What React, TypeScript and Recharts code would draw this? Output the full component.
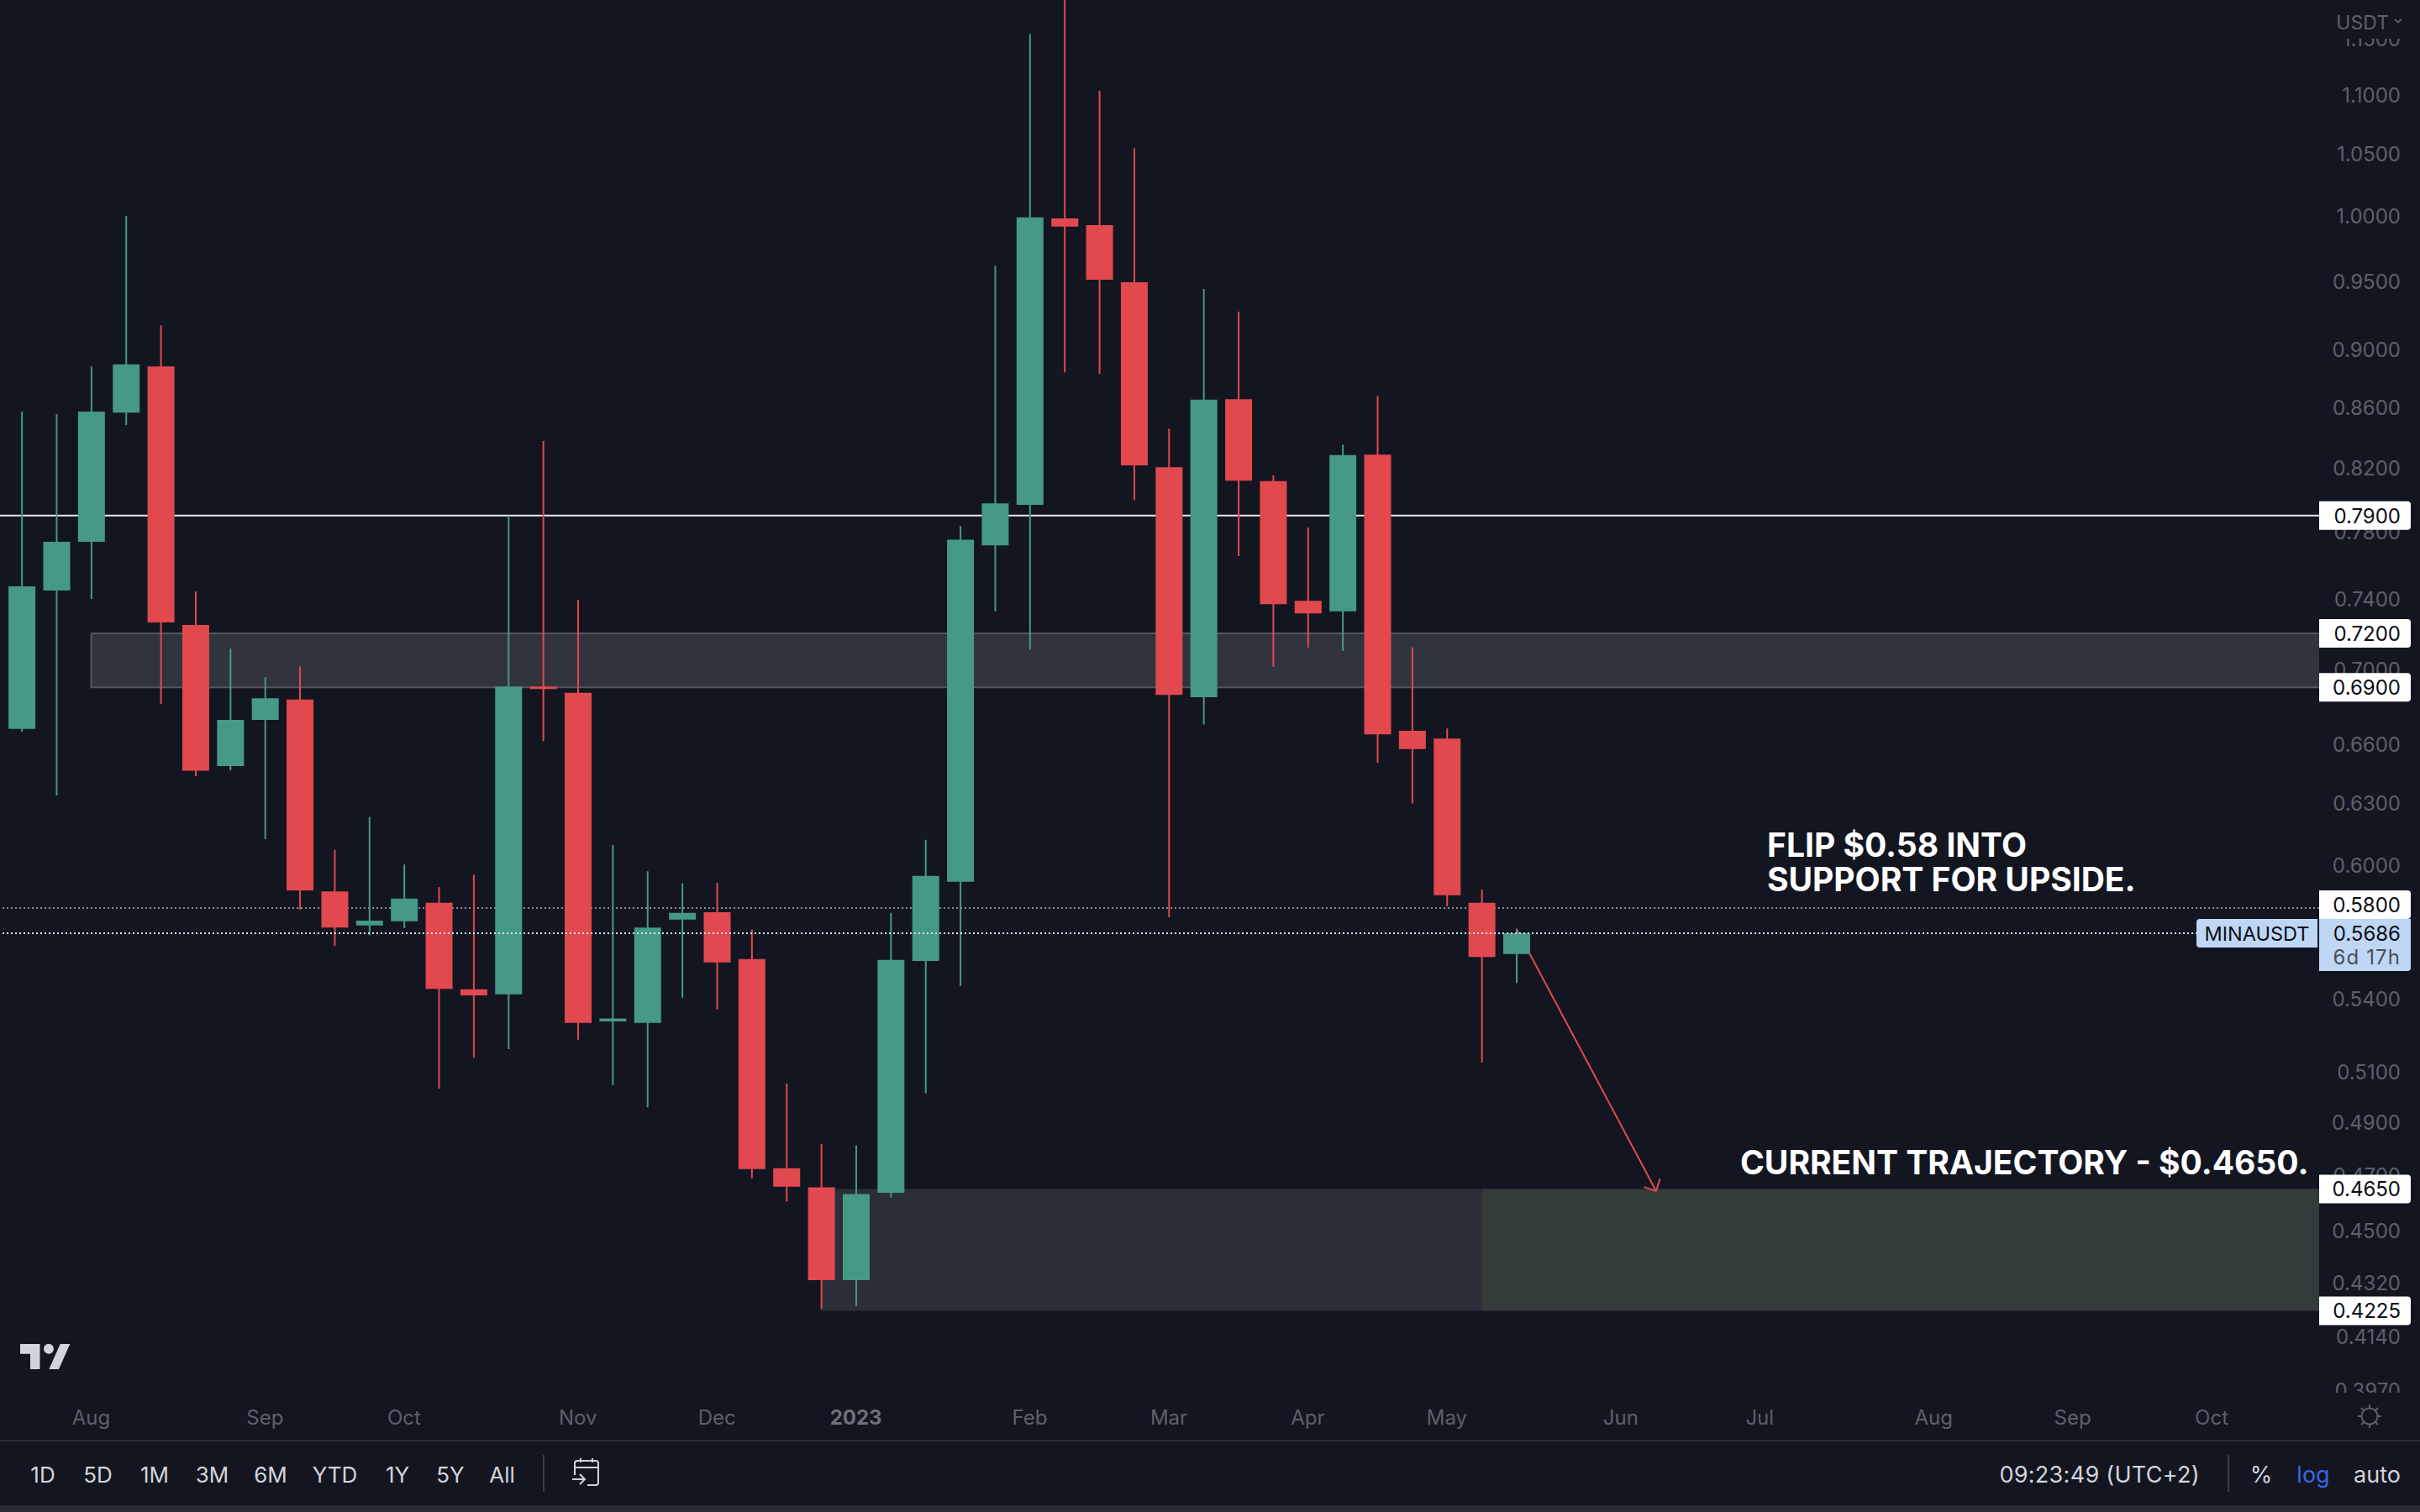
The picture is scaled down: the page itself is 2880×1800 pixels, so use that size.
import { Bar, Cell, ComposedChart, ReferenceArea, ReferenceLine, XAxis, YAxis } from 'recharts'

const WIDTH = 2880
const HEIGHT = 1800
const FONT = 'Inter, "Noto Sans", sans-serif'

// weekly MINAUSDT candles
const opens = [
  0.6678, 0.7447, 0.7738, 0.8566, 0.8883, 0.7248, 0.6486, 0.6726, 0.6835, 0.5877, 0.5721,
  0.574, 0.5824, 0.5441, 0.5419, 0.6905, 0.6871, 0.5305, 0.5299, 0.5748, 0.5781, 0.5572,
  0.4726, 0.4656, 0.4328, 0.4636, 0.5564, 0.5921, 0.7716, 0.7966, 0.9981, 0.9927, 0.9492,
  0.8205, 0.6847, 0.8657, 0.8116, 0.7387, 0.7326, 0.8287, 0.6668, 0.6628, 0.5824, 0.5594,
]
const highs = [
  0.8573, 0.8556, 0.8883, 1.0, 0.9174, 0.7441, 0.7115, 0.6957, 0.7016, 0.6072, 0.6231,
  0.6003, 0.5897, 0.5955, 0.7898, 0.8376, 0.7393, 0.6095, 0.5971, 0.5914, 0.5917, 0.5702,
  0.5052, 0.4818, 0.4812, 0.5778, 0.612, 0.7834, 0.9615, 1.1541, 1.1852, 1.1036, 1.0549,
  0.8459, 0.9442, 0.9275, 0.8153, 0.7825, 0.8353, 0.868, 0.7121, 0.6681, 0.5886, 0.5706,
]
const lows = [
  0.6663, 0.6338, 0.7398, 0.8482, 0.6811, 0.6435, 0.6464, 0.6123, 0.5793, 0.563, 0.5677,
  0.571, 0.5032, 0.5156, 0.5191, 0.6615, 0.5229, 0.5046, 0.4958, 0.5405, 0.5356, 0.4689,
  0.4604, 0.423, 0.4241, 0.4618, 0.5013, 0.5455, 0.7326, 0.7109, 0.8842, 0.8832, 0.7997,
  0.5758, 0.6703, 0.7652, 0.7013, 0.712, 0.7101, 0.6503, 0.6297, 0.5808, 0.5136, 0.5468,
]
const closes = [
  0.7472, 0.7738, 0.8573, 0.8897, 0.7262, 0.6462, 0.6726, 0.6842, 0.5881, 0.5712, 0.5743,
  0.5844, 0.5443, 0.5415, 0.6905, 0.6892, 0.5299, 0.5317, 0.5712, 0.5778, 0.5557, 0.4723,
  0.4658, 0.4328, 0.4631, 0.5568, 0.5949, 0.7751, 0.7976, 0.9988, 0.9916, 0.951, 0.8218,
  0.686, 0.8654, 0.8119, 0.7367, 0.7314, 0.8284, 0.665, 0.6573, 0.5859, 0.5581, 0.5686,
]

const priceTicks = [
  1.15, 1.1, 1.05, 1.0, 0.95, 0.9, 0.86, 0.82, 0.78, 0.74, 0.7, 0.66, 0.63, 0.6, 0.54, 0.51,
  0.49, 0.47, 0.45, 0.432, 0.414, 0.397,
]
const monthLabels = ['Aug', 'Sep', 'Oct', 'Nov', 'Dec', '2023', 'Feb', 'Mar', 'Apr', 'May', 'Jun', 'Jul', 'Aug', 'Sep', 'Oct']
const monthCandles = [2, 7, 11, 16, 20, 24, 29, 33, 37, 41, 46, 50, 55, 59, 63]
const rangeButtons = ['1D', '5D', '1M', '3M', '6M', 'YTD', '1Y', '5Y', 'All']
const rangeButtonX = [51, 116.5, 184, 252.5, 322, 398.5, 473, 536, 597.5]

// visible window of the two scales
const PRICE_DOMAIN = [0.3961, 1.1852]
const CANDLE_DOMAIN = [-0.6236, 66.0925]

const BG = '#131621'
const GREEN = '#459985'
const RED = '#E1494F'
const AXIS_TEXT = '#5D606B'
const TOOL_TEXT = '#D1D4DC'
const TEXT_DY = 0.5
// reference lines drawn below the candles: over the zones (100), under the bars (300)
const UNDER_BARS = 150

const rows = opens.map((open, i) => ({
  i,
  wick: [lows[i], highs[i]],
  body: [Math.min(open, closes[i]), Math.max(open, closes[i])],
  up: closes[i] >= open,
}))

function PriceTick({ y, payload }: any) {
  return (
    <g clipPath="url(#priceAxisClip)">
      <text x={2857} y={y + TEXT_DY} textAnchor="end" dominantBaseline="central" fontFamily={FONT} fontSize={24} fill={AXIS_TEXT}>
        {payload.value.toFixed(4)}
      </text>
    </g>
  )
}

function MonthTick({ x, payload }: any) {
  const label = monthLabels[monthCandles.indexOf(payload.value)]
  const isYear = label === '2023'
  return (
    <text
      x={x}
      y={1687}
      textAnchor="middle"
      dominantBaseline="central"
      fontFamily={FONT}
      fontSize={24}
      fontWeight={isYear ? 700 : 400}
      fill={isYear ? '#6E717B' : AXIS_TEXT}
    >
      {label}
    </text>
  )
}

// zone box, outlined on every side but the one against the price scale
function OpenZone({ x, y, width, height }: any) {
  return (
    <g>
      <rect x={x} y={y} width={width} height={height} fill="#31343D" />
      <path d={`M${x + width} ${y}H${x}V${y + height}H${x + width}`} fill="none" stroke="#53565F" strokeWidth={2} />
    </g>
  )
}

// white box on the price scale for each drawn level
function priceTag(text: string, shift = 0) {
  return ({ viewBox }: any) => {
    const y = viewBox.y + shift
    const x = viewBox.x + viewBox.width
    return (
      <g>
        <path d={`M${x} ${y - 17}h105a4 4 0 0 1 4 4v26a4 4 0 0 1 -4 4h-105z`} fill="#FFFFFF" />
        <text x={2857} y={y + TEXT_DY} textAnchor="end" dominantBaseline="central" fontFamily={FONT} fontSize={24} fill="#0B0E14">
          {text}
        </text>
      </g>
    )
  }
}

function lastPriceTag({ viewBox }: any) {
  const y = viewBox.y
  const x = viewBox.x + viewBox.width
  return (
    <g fontFamily={FONT} fontSize={24}>
      <rect x={x - 2} y={y - 2} width={2} height={4} fill={BG} />
      <path d={`M${x - 2} ${y - 17}v34h-140a4 4 0 0 1 -4 -4v-26a4 4 0 0 1 4 -4z`} fill="#BFD6F5" />
      <text x={x - 74} y={y + TEXT_DY} textAnchor="middle" dominantBaseline="central" fontSize={23.5} fill="#0B0E14">
        MINAUSDT
      </text>
      <path d={`M${x} ${y - 17}h109v58a4 4 0 0 1 -4 4h-105z`} fill="#BFD6F5" />
      <text x={2857} y={y + TEXT_DY} textAnchor="end" dominantBaseline="central" fill="#0B0E14">
        0.5686
      </text>
      <text x={2857} y={y + 28} textAnchor="end" dominantBaseline="central" letterSpacing={1.1} fill="#4A4E58">
        6d 17h
      </text>
    </g>
  )
}

function Overlay() {
  return (
    <svg width={WIDTH} height={HEIGHT} style={{ position: 'absolute', left: 0, top: 0, pointerEvents: 'none' }}>
      <defs>
        <clipPath id="priceAxisClip">
          <rect x={2760} y={46} width={120} height={1612} />
        </clipPath>
      </defs>

      {/* annotations */}
      <g fontFamily={FONT} fontSize={39} fontWeight={700} fill="#FFFFFF">
        <text x={2103} y={1020}>FLIP $0.58 INTO</text>
        <text x={2103} y={1060.5}>SUPPORT FOR UPSIDE.</text>
        <text x={2071} y={1398}>CURRENT TRAJECTORY - $0.4650.</text>
      </g>

      {/* price scale header */}
      <text x={2843} y={27} textAnchor="end" dominantBaseline="central" fontFamily={FONT} fontSize={23} fill={AXIS_TEXT}>
        USDT
      </text>
      <path d="M2850 23l4 3.5l4 -3.5" fill="none" stroke={AXIS_TEXT} strokeWidth={2} />

      {/* logo */}
      <path d="M24 1600h23.500v30h-11.500v-18.300h-12z" fill={TOOL_TEXT} />
      <circle cx={58} cy={1605.700} r={6} fill={TOOL_TEXT} />
      <path d="M71.700 1600h11.600l-13.300 30h-11.700z" fill={TOOL_TEXT} />

      {/* sun icon */}
      <g stroke={AXIS_TEXT} strokeWidth={2} fill="none">
        <circle cx={2820} cy={1686} r={9.500} />
        <path d="M2820 1672v5M2820 1695v5M2806 1686h5M2829 1686h5M2810 1676l3.500 3.500M2826.500 1692.500l3.500 3.500M2830 1676l-3.500 3.500M2813.500 1692.500l-3.500 3.500" />
      </g>

      {/* bottom toolbar */}
      <rect x={0} y={1714} width={WIDTH} height={2} fill="#2A2E39" />
      <rect x={0} y={1792} width={WIDTH} height={8} fill="#2A2D38" />
      <g fontFamily={FONT} fontSize={26} fill={TOOL_TEXT} dominantBaseline="central">
        {rangeButtons.map((label, i) => (
          <text key={label} x={rangeButtonX[i]} y={1755} textAnchor="middle">
            {label}
          </text>
        ))}
        <text x={2618} y={1755} textAnchor="end" fontSize={27} letterSpacing={0.3}>09:23:49 (UTC+2)</text>
        <text x={2691} y={1755} textAnchor="middle" fontSize={27}>%</text>
        <text x={2753} y={1755} textAnchor="middle" fontSize={27} fill="#3A66E8">log</text>
        <text x={2857} y={1755} textAnchor="end" fontSize={27}>auto</text>
      </g>
      <rect x={646} y={1732} width={2} height={44} fill="#3A3E49" />
      <rect x={2651} y={1732} width={2} height={44} fill="#3A3E49" />
      <g stroke={TOOL_TEXT} strokeWidth={2} fill="none">
        <path d="M684 1756v-14a3 3 0 0 1 3 -3h22a3 3 0 0 1 3 3v23a3 3 0 0 1 -3 3h-10" />
        <path d="M684 1747h28M691 1736v5M705 1736v5M681 1761h15M690 1755l6 6l-6 6" />
      </g>
    </svg>
  )
}

// the price tags go over the axis text, so they get a transparent chart of their own
function PriceTags() {
  return (
    <ComposedChart
      width={WIDTH}
      height={HEIGHT}
      data={rows}
      margin={{ top: 0, right: 120, bottom: 142, left: 0 }}
      style={{ position: 'absolute', left: 0, top: 0 }}
    >
      <XAxis dataKey="i" type="number" domain={CANDLE_DOMAIN} allowDataOverflow hide />
      <YAxis type="number" scale="log" domain={PRICE_DOMAIN} allowDataOverflow hide />
      <ReferenceLine y={0.5686} stroke="none" label={lastPriceTag} />
      <ReferenceLine y={0.79} stroke="none" label={priceTag('0.7900')} />
      <ReferenceLine y={0.72} stroke="none" label={priceTag('0.7200')} />
      <ReferenceLine y={0.69} stroke="none" label={priceTag('0.6900')} />
      <ReferenceLine y={0.58} stroke="none" label={priceTag('0.5800', -4)} />
      <ReferenceLine y={0.465} stroke="none" label={priceTag('0.4650')} />
      <ReferenceLine y={0.4225} stroke="none" label={priceTag('0.4225')} />
    </ComposedChart>
  )
}

export default function App() {
  const xMax = CANDLE_DOMAIN[1]
  return (
    <div style={{ position: 'absolute', left: 0, top: 0, width: WIDTH, height: HEIGHT, background: BG, overflow: 'hidden' }}>
      <Overlay />
      <ComposedChart
        width={WIDTH}
        height={HEIGHT}
        data={rows}
        margin={{ top: 0, right: 0, bottom: 86, left: 0 }}
        style={{ position: 'absolute', left: 0, top: 0 }}
      >
        <XAxis
          dataKey="i"
          type="number"
          domain={CANDLE_DOMAIN}
          allowDataOverflow
          ticks={monthCandles}
          interval={0}
          height={56}
          axisLine={false}
          tickLine={false}
          tick={MonthTick}
        />
        <XAxis xAxisId="wick" dataKey="i" type="number" domain={CANDLE_DOMAIN} allowDataOverflow hide />
        <YAxis
          orientation="right"
          type="number"
          scale="log"
          domain={PRICE_DOMAIN}
          allowDataOverflow
          ticks={priceTicks}
          interval={0}
          width={120}
          axisLine={false}
          tickLine={false}
          tick={PriceTick}
        />

        <ReferenceArea x1={2} x2={xMax} y1={0.69} y2={0.72} shape={OpenZone} />
        <ReferenceArea x1={23} x2={42} y1={0.4225} y2={0.465} fill="#2B2E37" fillOpacity={1} />
        <ReferenceArea x1={42} x2={xMax} y1={0.4225} y2={0.465} fill="#343B3B" fillOpacity={1} />
        <ReferenceLine y={0.79} stroke="#E8E8E8" strokeWidth={2} zIndex={UNDER_BARS} />
        <ReferenceLine y={0.58} stroke="#8B8D92" strokeWidth={2} strokeDasharray="2 3" zIndex={UNDER_BARS} />

        {/* projected move, the last candle's body covers its first stretch */}
        <ReferenceLine segment={[{ x: 43, y: 0.5706 }, { x: 47.02, y: 0.4642 }]} stroke={RED} strokeWidth={2} zIndex={UNDER_BARS} />
        <ReferenceLine segment={[{ x: 46.67, y: 0.4657 }, { x: 47.02, y: 0.4642 }]} stroke={RED} strokeWidth={2} zIndex={UNDER_BARS} />
        <ReferenceLine segment={[{ x: 47.13, y: 0.4688 }, { x: 47.02, y: 0.4642 }]} stroke={RED} strokeWidth={2} zIndex={UNDER_BARS} />

        <Bar xAxisId="wick" dataKey="wick" barSize={2} isAnimationActive={false}>
          {rows.map((row) => (
            <Cell key={row.i} fill={row.up ? GREEN : RED} />
          ))}
        </Bar>
        <Bar dataKey="body" barSize={32} isAnimationActive={false}>
          {rows.map((row) => (
            <Cell key={row.i} fill={row.up ? GREEN : RED} />
          ))}
        </Bar>

        <ReferenceLine y={0.5686} stroke="#D5E3FA" strokeWidth={2} strokeDasharray="2 3" />
      </ComposedChart>
      <PriceTags />
    </div>
  )
}
